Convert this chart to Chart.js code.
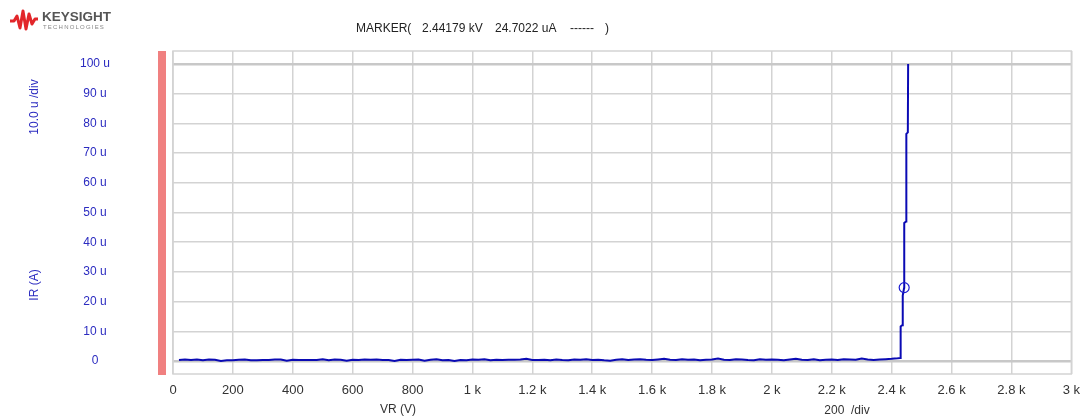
<!DOCTYPE html>
<html>
<head>
<meta charset="utf-8">
<script src="https://cdn.jsdelivr.net/npm/chart.js@4"></script>
<style>
  body { margin: 0; background: #fff; }
  #wrap { position: relative; width: 1089px; height: 420px; font-family: "Liberation Sans", Arial, sans-serif; }
  #plot { position: absolute; left: 0; top: 0; }
  .logo { position: absolute; left: 9px; top: 7px; }
  .logo svg { position: absolute; left: 0; top: 1px; }
  .logo .brand { position: absolute; left: 33px; top: 3px; font-size: 13.5px; line-height: 13.5px; font-weight: bold; color: #555; }
  .logo .sub { position: absolute; left: 34px; top: 17px; font-size: 6px; line-height: 6px; color: #888; letter-spacing: 1.2px; white-space: nowrap; }
  .marker span { position: absolute; top: 21px; font-size: 12px; color: #222; white-space: pre; }
</style>
</head>
<body>
<div id="wrap">
  <canvas id="plot" width="1089" height="420"></canvas>
  <div class="logo">
    <svg width="30" height="24" viewBox="0 0 30 24">
      <polyline points="1,13 5,13 8,8 11,20 14,3 17,21 20,6 23,16 26,11 29,11" fill="none" stroke="#e2262a" stroke-width="3" stroke-linejoin="round"/>
    </svg>
    <span class="brand">KEYSIGHT</span>
    <span class="sub">TECHNOLOGIES</span>
  </div>
  <div class="marker">
    <span style="left:356px">MARKER(</span>
    <span style="left:422px">2.44179 kV</span>
    <span style="left:495px">24.7022 uA</span>
    <span style="left:570px">------</span>
    <span style="left:605px">)</span>
  </div>
</div>
<script>
// reverse voltage sweep, VR in volts
const vrVolts = [
  20, 40, 60, 80, 100, 120, 140, 160, 180, 200, 220, 240, 260, 280, 300, 320, 340, 360, 380, 400,
  420, 440, 460, 480, 500, 520, 540, 560, 580, 600, 620, 640, 660, 680, 700, 720, 740, 760, 780, 800,
  820, 840, 860, 880, 900, 920, 940, 960, 980, 1000, 1020, 1040, 1060, 1080, 1100, 1120, 1140, 1160, 1180, 1200,
  1220, 1240, 1260, 1280, 1300, 1320, 1340, 1360, 1380, 1400, 1420, 1440, 1460, 1480, 1500, 1520, 1540, 1560, 1580, 1600,
  1620, 1640, 1660, 1680, 1700, 1720, 1740, 1760, 1780, 1800, 1820, 1840, 1860, 1880, 1900, 1920, 1940, 1960, 1980, 2000,
  2020, 2040, 2060, 2080, 2100, 2120, 2140, 2160, 2180, 2200, 2220, 2240, 2260, 2280, 2300, 2320, 2340, 2360, 2380, 2400,
  2420, 2428, 2430, 2435, 2437, 2441.79, 2442, 2448, 2449, 2454, 2455
];
// reverse current, IR in uA
const irMicroAmps = [
  0.3, 0.5, 0.3, 0.5, 0.2, 0.5, 0.4, 0.0, 0.2, 0.2, 0.4, 0.5, 0.2, 0.2, 0.3, 0.3, 0.5, 0.5, 0.1, 0.4,
  0.3, 0.3, 0.3, 0.3, 0.6, 0.2, 0.5, 0.4, 0.1, 0.4, 0.3, 0.5, 0.4, 0.5, 0.3, 0.3, 0.0, 0.4, 0.3, 0.4,
  0.5, 0.1, 0.4, 0.6, 0.2, 0.3, 0.0, 0.3, 0.2, 0.5, 0.4, 0.6, 0.2, 0.4, 0.3, 0.4, 0.4, 0.5, 0.7, 0.3,
  0.3, 0.4, 0.2, 0.5, 0.3, 0.2, 0.5, 0.4, 0.6, 0.3, 0.4, 0.2, 0.1, 0.4, 0.6, 0.3, 0.5, 0.6, 0.4, 0.3,
  0.5, 0.7, 0.4, 0.3, 0.6, 0.4, 0.5, 0.2, 0.4, 0.5, 0.8, 0.4, 0.3, 0.6, 0.5, 0.3, 0.2, 0.6, 0.4, 0.5,
  0.4, 0.2, 0.5, 0.7, 0.4, 0.3, 0.6, 0.2, 0.4, 0.5, 0.3, 0.6, 0.5, 0.4, 0.8, 0.5, 0.3, 0.5, 0.6, 0.7,
  0.9, 1.0, 11.6, 12.0, 22.0, 24.7022, 46.5, 47.0, 76.5, 77.0, 100.0
];
const markerPoint = { x: 2441.79, y: 24.7022 };

const xTickValues = [0, 200, 400, 600, 800, 1000, 1200, 1400, 1600, 1800, 2000, 2200, 2400, 2600, 2800, 3000];
const yTickValues = [0, 10, 20, 30, 40, 50, 60, 70, 80, 90, 100];

const traceBlue = "#0a0ab4";
const labelBlue = "#2b2bc0";
const gridGray = "#d3d3d3";

function fmtVolts(v) {
  if (v === 0) return "0";
  if (v < 1000) return String(v);
  return (v / 1000) + " k";
}

// red strip, frame and the hand-placed axis captions
const decorations = {
  id: "decorations",
  beforeDatasetsDraw(chart) {
    const { ctx, chartArea: a } = chart;
    ctx.save();
    ctx.strokeStyle = gridGray;
    ctx.lineWidth = 1.5;
    ctx.strokeRect(a.left, a.top, a.right - a.left, a.bottom - a.top);
    ctx.fillStyle = "#f08080";
    ctx.fillRect(a.left - 15, a.top, 8, a.bottom - a.top + 1);
    ctx.restore();
  },
  afterDraw(chart) {
    const { ctx } = chart;
    ctx.save();
    ctx.font = "12px 'Liberation Sans', Arial, sans-serif";
    ctx.textAlign = "center";
    ctx.textBaseline = "middle";
    ctx.fillStyle = "#333";
    ctx.fillText("VR (V)", 398, 410);
    ctx.fillText("200  /div", 847, 411);
    ctx.fillStyle = labelBlue;
    ctx.translate(35, 107);
    ctx.rotate(-Math.PI / 2);
    ctx.fillText("10.0 u /div", 0, 0);
    ctx.rotate(Math.PI / 2);
    ctx.translate(0, 178);
    ctx.rotate(-Math.PI / 2);
    ctx.fillText("IR (A)", 0, 0);
    ctx.restore();
  }
};

new Chart(document.getElementById("plot"), {
  type: "line",
  data: {
    datasets: [
      {
        label: "IR",
        data: vrVolts.map((v, i) => ({ x: v, y: irMicroAmps[i] })),
        borderColor: traceBlue,
        borderWidth: 2,
        pointRadius: 0,
        tension: 0,
        order: 2,
      },
      {
        label: "Marker",
        data: [markerPoint],
        showLine: false,
        pointRadius: 5,
        pointBorderColor: "#1a1ad0",
        pointBackgroundColor: "rgba(0,0,0,0)",
        pointBorderWidth: 1.2,
        order: 1,
      },
    ],
  },
  options: {
    responsive: false,
    animation: false,
    events: [],
    layout: { padding: { top: 51, right: 17, left: 0, bottom: 0 } },
    plugins: { legend: { display: false }, tooltip: { enabled: false } },
    scales: {
      x: {
        type: "linear",
        min: 0,
        max: 3000,
        afterBuildTicks: (axis) => { axis.ticks = xTickValues.map((v) => ({ value: v })); },
        afterFit: (axis) => { axis.height = 46; },
        ticks: {
          callback: (v) => fmtVolts(v),
          color: "#333",
          padding: 9,
          maxRotation: 0,
          autoSkip: false,
          font: { family: "'Liberation Sans', Arial, sans-serif", size: 13 },
        },
        grid: { color: gridGray, lineWidth: 1.5, drawTicks: false },
        border: { display: false },
      },
      y: {
        type: "linear",
        min: -4.4,
        max: 104.4,
        afterBuildTicks: (axis) => { axis.ticks = yTickValues.map((v) => ({ value: v })); },
        afterFit: (axis) => {
          axis.width = 173;
          // the wide label padding should not push the plot area down
          axis.paddingTop = 0;
          axis.paddingBottom = 0;
        },
        ticks: {
          callback: (v) => (v === 0 ? "0" : v + " u"),
          color: labelBlue,
          crossAlign: "center",
          padding: 63,
          font: { family: "'Liberation Sans', Arial, sans-serif", size: 12 },
        },
        grid: {
          color: (c) => (c.tick && (c.tick.value === 0 || c.tick.value === 100) ? "#c8c8c8" : gridGray),
          lineWidth: (c) => (c.tick && (c.tick.value === 0 || c.tick.value === 100) ? 2.5 : 1.5),
          drawTicks: false,
        },
        border: { display: false },
      },
    },
  },
  plugins: [decorations],
});
</script>
</body>
</html>
